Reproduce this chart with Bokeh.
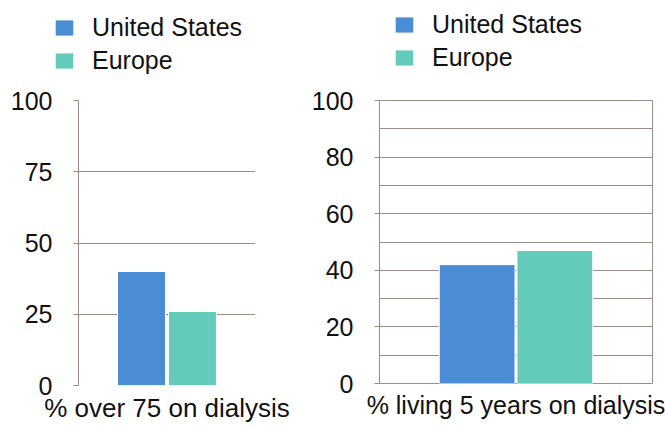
from bokeh.plotting import figure
from bokeh.models import (ColumnDataSource, FactorRange, Range1d, FixedTicker,
                          Legend, LegendItem, Title)
from bokeh.layouts import row, column
from bokeh.embed import file_html
from bokeh.resources import INLINE

# ---- data ----
series = ["United States", "Europe"]
colors = ["#4a8dd5", "#64cbba"]

left_title = "% over 75 on dialysis"
left_values = [40, 26]
left_ticks = [0, 25, 50, 75, 100]

right_title = "% living 5 years on dialysis"
right_values = [42, 47]
right_ticks = [0, 20, 40, 60, 80, 100]
right_grid = [0, 10, 20, 30, 40, 50, 60, 70, 80, 90, 100]

FONT = "Liberation Sans"
GRID = "#9c8c88"
TEXT = "#111111"
LEG_H = 80


def legend_fig(width, legend_loc):
    lf = figure(width=width, height=LEG_H, output_backend="svg",
                toolbar_location=None, x_range=FactorRange(factors=series),
                y_range=Range1d(0, 1),
                min_border_left=0, min_border_right=0, min_border_top=0,
                min_border_bottom=0)
    lf.frame_align = False
    lf.axis.visible = False
    lf.grid.visible = False
    lf.outline_line_color = None
    lf.background_fill_color = "white"
    lf.border_fill_color = "white"
    src = ColumnDataSource(dict(series=series, color=colors))
    r = lf.vbar(x="series", top=0, bottom=0, width=0.5, fill_color="color",
                line_color=None, source=src)
    items = [LegendItem(label=s, renderers=[r], index=i) for i, s in enumerate(series)]
    leg = Legend(items=items, location=legend_loc, padding=0, margin=0,
                 spacing=4, glyph_width=22, glyph_height=19, label_standoff=17,
                 label_text_font=FONT, label_text_font_size="25px",
                 label_text_color=TEXT, border_line_color=None,
                 background_fill_alpha=0)
    lf.add_layout(leg, "center")
    return lf


def panel(values, title, title_size, ticks, grid_ticks, width, border_left,
          border_right, frame_h, pad, bar_w, outline):
    height = 428 - LEG_H
    top = 100 - LEG_H
    p = figure(width=width, height=height, output_backend="svg",
               toolbar_location=None,
               x_range=FactorRange(factors=series, range_padding=pad,
                                   range_padding_units="absolute"),
               y_range=Range1d(0, 100),
               min_border_left=border_left, min_border_right=border_right,
               min_border_top=top, min_border_bottom=height - top - frame_h)
    p.frame_align = False
    p.background_fill_color = "white"
    p.border_fill_color = "white"
    p.outline_line_color = GRID if outline else None

    src = ColumnDataSource(dict(series=series, value=values, color=colors))
    p.vbar(x="series", top="value", width=bar_w, color="color",
           line_color="white", line_width=1, source=src)

    # y axis
    p.yaxis.ticker = FixedTicker(ticks=ticks)
    p.yaxis.axis_line_color = GRID
    p.yaxis.major_tick_line_color = GRID
    p.yaxis.major_tick_out = 5
    p.yaxis.major_tick_in = 0
    p.yaxis.minor_tick_line_color = None
    p.yaxis.major_label_text_font = FONT
    p.yaxis.major_label_text_font_size = "25px"
    p.yaxis.major_label_text_color = TEXT
    p.yaxis.major_label_standoff = 21

    # grid
    p.ygrid.ticker = FixedTicker(ticks=grid_ticks)
    p.ygrid.grid_line_color = GRID
    p.ygrid.grid_line_width = 1
    p.xgrid.grid_line_color = None

    # x axis hidden; category label as a title below the frame
    p.xaxis.visible = False
    p.add_layout(Title(text=title, align="center", text_font=FONT,
                       text_font_size=title_size, text_font_style="normal",
                       text_color=TEXT, standoff=11), "below")
    return p


l1 = legend_fig(300, (53, 5))
l2 = legend_fig(365, (93, 8))
p1 = panel(left_values, left_title, "26px", left_ticks, left_ticks, 300, 78, 45,
           285, 0.735, 0.94, False)
p2 = panel(right_values, right_title, "25px", right_ticks, right_grid, 365, 79, 13,
           283, 0.756, 0.975, True)

layout = row(column(l1, p1), column(l2, p2))
open("out.html", "w").write(file_html(layout, INLINE))
